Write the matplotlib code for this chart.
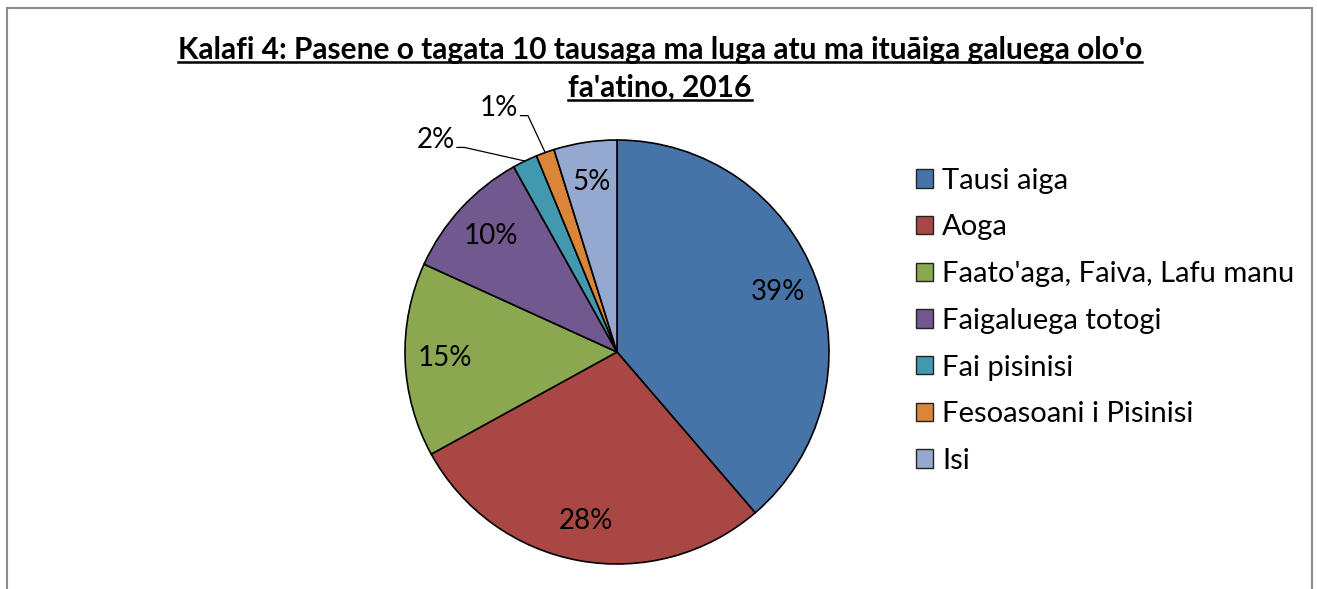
"""
Pie chart: people 10 years and over by type of work, 2016
"""

import numpy as np
import matplotlib
matplotlib.use("Agg")
import matplotlib.pyplot as plt
from matplotlib.patches import Rectangle, Patch
from matplotlib.lines import Line2D

plt.rcParams['font.family'] = ['Lato', 'DejaVu Sans']

categories = ["Tausi aiga", "Aoga", "Faato'aga, Faiva, Lafu manu",
              "Faigaluega totogi", "Fai pisinisi", "Fesoasoani i Pisinisi", "Isi"]
values = [38.7, 28.3, 14.8, 10.1, 1.9, 1.4, 4.8]
colors = ["#4674A8", "#A94744", "#8BA850", "#71588F", "#4198AF", "#DA8537", "#94A8D0"]
title_lines = ["Kalafi 4: Pasene o tagata 10 tausaga ma luga atu ma ituāiga galuega olo'o",
               "fa'atino, 2016"]

W, H = 1317, 589
fig = plt.figure(figsize=(W / 100, H / 100), dpi=100)

# outer frame (open at the bottom)
fig.add_artist(Rectangle((7 / W, -0.1), (1312 - 7) / W, 1.1 - 8 / H,
                         transform=fig.transFigure, fill=False,
                         edgecolor="#8c8c8c", lw=1.5))

cx, cy, r = 617, 352, 212
ax = fig.add_axes([(cx - r) / W, (H - cy - r) / H, 2 * r / W, 2 * r / H])

wedges, _ = ax.pie(values, colors=colors, startangle=90, counterclock=False,
                   radius=1, wedgeprops=dict(edgecolor="black", linewidth=1.2))
ax.set_xlim(-1, 1)
ax.set_ylim(-1, 1)
ax.axis("off")

fs = 20
total = sum(values)
for w, v in zip(wedges, values):
    pct = f"{round(v / total * 100):.0f}%"
    mid = np.deg2rad((w.theta1 + w.theta2) / 2)
    if v >= 3:
        rr = 0.81
        ax.text(rr * np.cos(mid), rr * np.sin(mid), pct, ha="center", va="center",
                fontsize=fs)

# outside labels with elbow leader lines for the two small slices
small = {4: (-0.765, 1.0), 5: (-0.465, 1.15)}
for i, (tx, ty) in small.items():
    w = wedges[i]
    mid = np.deg2rad((w.theta1 + w.theta2) / 2)
    ex, ey = np.cos(mid), np.sin(mid)
    pct = f"{round(values[i] / total * 100):.0f}%"
    ax.text(tx, ty, pct, ha="right", va="center", fontsize=fs, clip_on=False)
    ax.plot([tx + 0.01, tx + 0.045, ex], [ty - 0.035, ty - 0.035, ey],
            color="black", lw=0.9, clip_on=False)

# legend
handles = [Patch(facecolor=c, edgecolor="#222222", lw=1.0) for c in colors]
fig.legend(handles, categories, loc="upper left",
           bbox_to_anchor=(904 / W, 1 - 156 / H), frameon=False,
           fontsize=21, handlelength=0.6, handleheight=0.6,
           handletextpad=0.3, labelspacing=0.71, borderaxespad=0)

# title with underline
ys = [50, 88]
texts = []
for line, y in zip(title_lines, ys):
    t = fig.text(660 / W, 1 - y / H, line, ha="center", va="center",
                 fontsize=21.5, fontweight="bold")
    texts.append(t)

fig.canvas.draw()
rend = fig.canvas.get_renderer()
for t in texts:
    bb = t.get_window_extent(rend)
    yline = bb.y0 + 2
    fig.add_artist(Line2D([bb.x0 / W, bb.x1 / W], [yline / H, yline / H],
                          transform=fig.transFigure, color="black", lw=1.8))

fig.savefig("out.png", dpi=100)
